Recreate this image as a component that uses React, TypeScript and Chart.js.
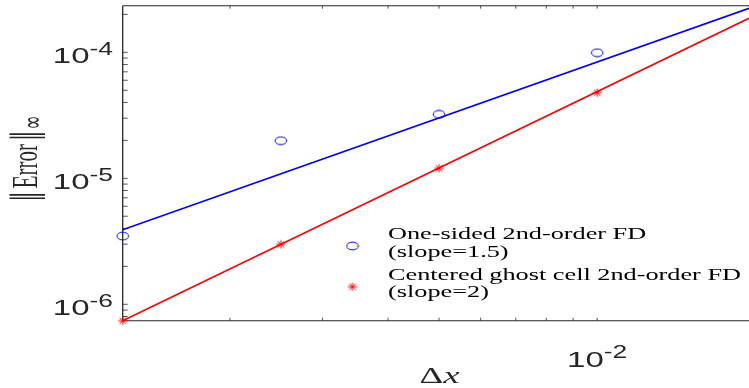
import React, { useEffect, useRef } from "react";
import { Chart, registerables } from "chart.js";

Chart.register(...registerables);

// ---- data ----
const dx = [1.25e-3, 2.5e-3, 5e-3, 1e-2];
const errOneSided = [3.48e-6, 1.99e-5, 3.22e-5, 9.93e-5];
const errCentered = [7.4e-7, 2.99e-6, 1.2e-5, 4.78e-5];
const fitDx = [1.25e-3, 1.945e-2];
const fitOneSided = [3.9e-6, 2.234e-4];
const fitCentered = [7.4e-7, 1.862e-4];
const legendOneSided = ["One-sided 2nd-order FD", "(slope=1.5)"];
const legendCentered = ["Centered ghost cell 2nd-order FD", "(slope=2)"];
const xTickExps = [-2];
const yTickExps = [-6, -5, -4];
const xLimits = [1.25e-3, 1.945e-2];
const yLimits = [7.41e-7, 2.344e-4];

const SX = 1.5; // horizontal stretch of the reference's text
const BLUE = "#0000ff";
const RED = "#ff0000";
const AX = "#262626";

function makeCircle(color: string) {
  const c = document.createElement("canvas");
  c.width = 14;
  c.height = 10;
  const g = c.getContext("2d")!;
  g.strokeStyle = color;
  g.lineWidth = 1;
  g.beginPath();
  g.ellipse(7, 5, 5.8, 3.9, 0, 0, Math.PI * 2);
  g.stroke();
  return c;
}

function makeStar(color: string) {
  const c = document.createElement("canvas");
  c.width = 12;
  c.height = 10;
  const g = c.getContext("2d")!;
  g.strokeStyle = color;
  g.lineWidth = 1;
  const cx = 6, cy = 5, rx = 4.6, ry = 4.2, d = 0.72;
  g.beginPath();
  g.moveTo(cx - rx, cy); g.lineTo(cx + rx, cy);
  g.moveTo(cx, cy - ry); g.lineTo(cx, cy + ry);
  g.moveTo(cx - rx * d, cy - ry * d); g.lineTo(cx + rx * d, cy + ry * d);
  g.moveTo(cx - rx * d, cy + ry * d); g.lineTo(cx + rx * d, cy - ry * d);
  g.stroke();
  return c;
}

function sText(ctx: CanvasRenderingContext2D, t: string, x: number, y: number, font: string, color: string, sx = SX) {
  ctx.save();
  ctx.translate(x, y);
  ctx.scale(sx, 1);
  ctx.font = font;
  ctx.fillStyle = color;
  ctx.textAlign = "left";
  ctx.textBaseline = "alphabetic";
  ctx.fillText(t, 0, 0);
  ctx.restore();
}

function width(ctx: CanvasRenderingContext2D, t: string, font: string, sx = SX) {
  ctx.save();
  ctx.font = font;
  const w = ctx.measureText(t).width * sx;
  ctx.restore();
  return w;
}

const BASE_FONT = '22px "Liberation Sans", Arial, sans-serif';
const SUP_FONT = '17.6px "Liberation Sans", Arial, sans-serif';

function drawPow(ctx: CanvasRenderingContext2D, exp: number, x: number, baseline: number, align: "right" | "center") {
  const b = "10";
  const s = String(exp);
  const wb = width(ctx, b, BASE_FONT);
  const ws = width(ctx, s, SUP_FONT);
  const left = align === "right" ? x - wb - ws : x - (wb + ws) / 2;
  sText(ctx, b, left, baseline, BASE_FONT, AX);
  sText(ctx, s, left + wb, baseline - 8.3, SUP_FONT, AX);
}

export default function App() {
  const ref = useRef<HTMLCanvasElement | null>(null);

  useEffect(() => {
    const canvas = ref.current!;
    const circle = makeCircle(BLUE);
    const star = makeStar(RED);

    const axesPlugin = {
      id: "matlabAxes",
      beforeDatasetsDraw(chart: any) {
        const { ctx, chartArea: a, scales } = chart;
        const xs = scales.x, ys = scales.y;
        ctx.save();
        ctx.strokeStyle = "#555555";
        ctx.lineWidth = 1;
        ctx.beginPath();
        for (let e = -5; e <= 0; e++) {
          for (let m = 1; m <= 9; m++) {
            const v = m * Math.pow(10, e);
            if (v > xs.min * 1.0001 && v < xs.max) {
              const px = xs.getPixelForValue(v);
              ctx.moveTo(px, a.bottom);
              ctx.lineTo(px, a.bottom - 3);
              ctx.moveTo(px, a.top);
              ctx.lineTo(px, a.top + 3);
            }
          }
        }
        for (let e = -8; e <= -2; e++) {
          for (let m = 1; m <= 9; m++) {
            const v = m * Math.pow(10, e);
            if (v > ys.min && v < ys.max) {
              const py = ys.getPixelForValue(v);
              ctx.moveTo(a.left, py);
              ctx.lineTo(a.left + 5, py);
            }
          }
        }
        ctx.stroke();
        // frame: top and bottom lines
        ctx.strokeStyle = AX;
        ctx.lineWidth = 1.1;
        ctx.beginPath();
        ctx.moveTo(a.left, a.top);
        ctx.lineTo(a.right, a.top);
        ctx.moveTo(a.left, a.bottom);
        ctx.lineTo(a.right, a.bottom);
        ctx.stroke();
        ctx.lineWidth = 1.3;
        ctx.beginPath();
        ctx.moveTo(a.left, a.top);
        ctx.lineTo(a.left, a.bottom);
        ctx.stroke();
        ctx.restore();
      },
      afterDraw(chart: any) {
        const { ctx, chartArea: a, scales } = chart;
        const xs = scales.x, ys = scales.y;
        // y tick labels
        for (const e of yTickExps) {
          const py = ys.getPixelForValue(Math.pow(10, e));
          drawPow(ctx, e, a.left - 9.7, py + 11, "right");
        }
        // x tick labels
        for (const e of xTickExps) {
          const px = xs.getPixelForValue(Math.pow(10, e));
          drawPow(ctx, e, px, a.bottom + 46, "center");
        }
        // x title: Δx
        const tFont = '23px "Liberation Serif", "DejaVu Serif", serif';
        const tiFont = 'italic 23px "Liberation Serif", "DejaVu Serif", serif';
        const wD = width(ctx, "Δ", tFont, 1.6);
        const wx = width(ctx, "x", tiFont, 1.6);
        const cx = 439.5;
        sText(ctx, "Δ", cx - (wD + wx) / 2, 383, tFont, AX, 1.6);
        sText(ctx, "x", cx - (wD + wx) / 2 + wD, 383, tiFont, AX, 1.6);

        // y title: ‖ Error ‖∞ (rotated)
        ctx.save();
        ctx.translate(37, 158.5);
        ctx.rotate(-Math.PI / 2);
        ctx.scale(1, 1.7);
        ctx.fillStyle = AX;
        ctx.textBaseline = "alphabetic";
        const yFont = '21px "Liberation Serif", "DejaVu Serif", serif';
        const barFont = '21px "DejaVu Serif", serif';
        const subFont = '17px "DejaVu Sans", serif';
        const gap = 3;
        ctx.font = barFont;
        const wbar = ctx.measureText("‖").width;
        ctx.font = yFont;
        const wword = ctx.measureText("Error").width;
        ctx.font = subFont;
        const wsub = ctx.measureText("∞").width;
        const total = wbar * 2 + wword + wsub + gap * 2 + 1;
        let pos = -total / 2;
        ctx.font = barFont;
        ctx.fillText("‖", pos, 0);
        pos += wbar + gap;
        ctx.font = yFont;
        ctx.fillText("Error", pos, 0);
        pos += wword + gap;
        ctx.font = barFont;
        ctx.fillText("‖", pos, 0);
        pos += wbar + 1;
        ctx.font = subFont;
        ctx.fillText("∞", pos, 3);
        ctx.restore();

        // legend
        const lFont = '16px "Liberation Serif", "DejaVu Serif", serif';
        const lsx = 353 / width(ctx, legendCentered[0], lFont, 1);
        ctx.drawImage(circle, 352.5 - circle.width / 2, 246 - circle.height / 2);
        ctx.drawImage(star, 352.5 - star.width / 2, 286.7 - star.height / 2);
        sText(ctx, legendOneSided[0], 388, 239, lFont, "#000", lsx);
        sText(ctx, legendOneSided[1], 388, 256.5, lFont, "#000", lsx);
        sText(ctx, legendCentered[0], 388, 279.5, lFont, "#000", lsx);
        sText(ctx, legendCentered[1], 388, 297, lFont, "#000", lsx);
      },
    };

    const chart = new Chart(canvas, {
      type: "scatter",
      data: {
        datasets: [
          {
            label: "fit one-sided",
            data: fitDx.map((x, i) => ({ x, y: fitOneSided[i] })),
            showLine: true,
            borderColor: BLUE,
            borderWidth: 1.5,
            pointRadius: 0,
            clip: false,
          },
          {
            label: "fit centered",
            data: fitDx.map((x, i) => ({ x, y: fitCentered[i] })),
            showLine: true,
            borderColor: RED,
            borderWidth: 1.5,
            pointRadius: 0,
            clip: false,
          },
          {
            label: legendOneSided.join(" "),
            data: dx.map((x, i) => ({ x, y: errOneSided[i] })),
            pointStyle: circle,
            pointRadius: 5,
            borderColor: BLUE,
            backgroundColor: BLUE,
            clip: false,
          },
          {
            label: legendCentered.join(" "),
            data: dx.map((x, i) => ({ x, y: errCentered[i] })),
            pointStyle: star,
            pointRadius: 5,
            borderColor: RED,
            backgroundColor: RED,
            clip: false,
          },
        ],
      },
      options: {
        responsive: false,
        animation: false,
        devicePixelRatio: 1,
        events: [],
        layout: { autoPadding: false, padding: { left: 122.7, top: 5.7, right: 0, bottom: 67.3 } },
        scales: {
          x: { type: "logarithmic", min: xLimits[0], max: xLimits[1], bounds: "data", display: false },
          y: { type: "logarithmic", min: yLimits[0], max: yLimits[1], bounds: "data", display: false },
        },
        plugins: { legend: { display: false }, tooltip: { enabled: false } },
      } as any,
      plugins: [axesPlugin],
    });
    return () => chart.destroy();
  }, []);

  return (
    <div style={{ position: "fixed", left: 0, top: 0, width: 749, height: 388, background: "#fff", overflow: "hidden" }}>
      <canvas ref={ref} width={749} height={388} style={{ display: "block" }} />
    </div>
  );
}
